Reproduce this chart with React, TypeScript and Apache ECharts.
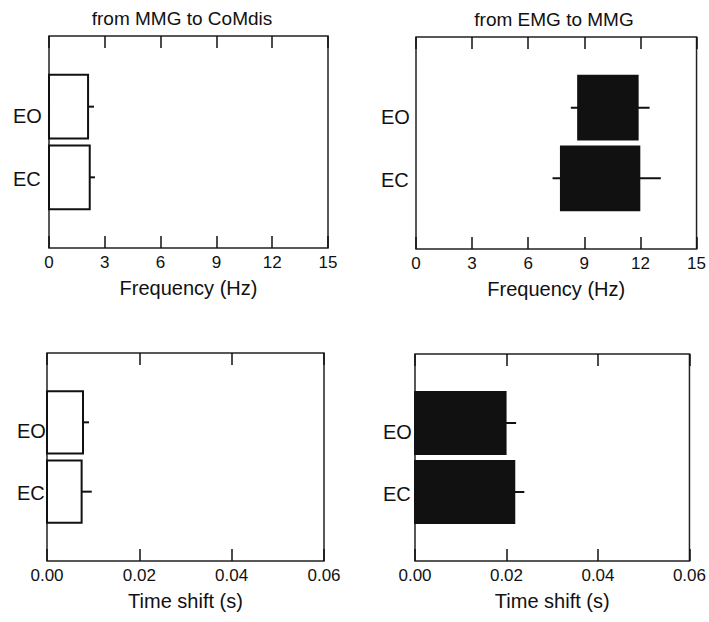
import React, { useEffect, useRef } from "react";
import * as echarts from "echarts";

// Categories (rows of each panel)
const categories = ["EO", "EC"];

// Top-left: from MMG to CoMdis, frequency (Hz)
const freqMmgCoMdis = [2.1, 2.19];
const freqMmgCoMdisErr = [2.42, 2.47];

// Top-right: from EMG to MMG, frequency band (Hz)
const freqEmgMmgLow = [8.67, 7.75];
const freqEmgMmgHigh = [11.85, 11.94];
const freqEmgMmgErrLow = [8.28, 7.3];
const freqEmgMmgErrHigh = [12.49, 13.09];

// Bottom-left: time shift (s), MMG to CoMdis
const shiftMmgCoMdis = [0.0078, 0.0075];
const shiftMmgCoMdisErr = [0.0091, 0.0097];

// Bottom-right: time shift (s), EMG to MMG
const shiftEmgMmg = [0.0198, 0.0217];
const shiftEmgMmgErr = [0.0221, 0.0239];

// Titles and axis names
const panelTitles = ["from MMG to CoMdis", "from EMG to MMG"];
const freqAxisName = "Frequency (Hz)";
const timeAxisName = "Time shift (s)";

const HALF = 0.45;
const FONT = "'Liberation Sans', Arial, Helvetica, sans-serif";
const INK = "#111";

function barRender(fill: string) {
  return (_params: any, api: any) => {
    const lo = api.value(0);
    const hi = api.value(1);
    const y = api.value(2);
    const p1 = api.coord([lo, y - HALF]);
    const p2 = api.coord([hi, y + HALF]);
    return {
      type: "rect",
      shape: {
        x: Math.min(p1[0], p2[0]),
        y: Math.min(p1[1], p2[1]),
        width: Math.abs(p2[0] - p1[0]),
        height: Math.abs(p2[1] - p1[1]),
      },
      style: { fill, stroke: INK, lineWidth: 2 },
    };
  };
}

function errRender(_params: any, api: any) {
  const lo = api.value(0);
  const hi = api.value(1);
  const y = api.value(2);
  const p1 = api.coord([lo, y]);
  const p2 = api.coord([hi, y]);
  return {
    type: "line",
    shape: { x1: p1[0], y1: p1[1], x2: p2[0], y2: p2[1] },
    style: { stroke: INK, lineWidth: 2 },
  };
}

export default function App() {
  const ref = useRef<HTMLDivElement>(null);

  useEffect(() => {
    if (!ref.current) return;
    const chart = echarts.init(ref.current, undefined, { renderer: "svg" });

    const grids = [
      { left: 49, top: 36, width: 279, height: 212 },
      { left: 416, top: 37, width: 283, height: 212 },
      { left: 47, top: 353, width: 277, height: 208 },
      { left: 415, top: 354, width: 280, height: 207 },
    ];
    const labelMargins = [36, 35, 30, 32];

    const xCfg = [
      { min: 0, max: 15, interval: 3, name: freqAxisName, fmt: (v: number) => String(v) },
      { min: 0, max: 15, interval: 3, name: freqAxisName, fmt: (v: number) => String(v) },
      { min: 0, max: 0.06, interval: 0.02, name: timeAxisName, fmt: (v: number) => v.toFixed(2) },
      { min: 0, max: 0.06, interval: 0.02, name: timeAxisName, fmt: (v: number) => v.toFixed(2) },
    ];

    const xAxis: any[] = [];
    const yAxis: any[] = [];
    grids.forEach((_g, i) => {
      const c = xCfg[i];
      // bottom axis with labels
      xAxis.push({
        type: "value",
        gridIndex: i,
        position: "bottom",
        min: c.min,
        max: c.max,
        interval: c.interval,
        name: c.name,
        nameLocation: "middle",
        nameGap: 30,
        nameTextStyle: { fontFamily: FONT, fontSize: 20, color: INK },
        axisLine: { show: false, onZero: false },
        axisTick: { show: true, inside: true, length: 12, lineStyle: { color: INK, width: 1.5 } },
        axisLabel: { show: true, margin: 6, fontFamily: FONT, fontSize: 17, color: INK, formatter: c.fmt },
        splitLine: { show: false },
      });
      // top axis: ticks only
      xAxis.push({
        type: "value",
        gridIndex: i,
        position: "top",
        min: c.min,
        max: c.max,
        interval: c.interval,
        axisLine: { show: false, onZero: false },
        axisTick: { show: true, inside: true, length: 12, lineStyle: { color: INK, width: 1.5 } },
        axisLabel: { show: false },
        splitLine: { show: false },
      });
      yAxis.push({
        type: "value",
        gridIndex: i,
        min: 0,
        max: 3,
        interval: 1,
        inverse: true,
        axisLine: { show: false, onZero: false },
        axisTick: { show: false },
        splitLine: { show: false },
        axisLabel: {
          show: true,
          align: "left",
          margin: labelMargins[i],
          formatter: (v: number) => {
            if (v === 1) return "{a|" + categories[0] + "}";
            if (v === 2) return "{b|" + categories[1] + "}";
            return "";
          },
          rich: {
            a: { fontFamily: FONT, fontSize: 20, color: INK, padding: [18, 0, 0, 0] },
            b: { fontFamily: FONT, fontSize: 20, color: INK, padding: [3, 0, 0, 0] },
          },
        },
      });
    });

    const rows = categories.map((_c, k) => k + 1);

    const panelBars = [
      { fill: "#ffffff", lo: rows.map(() => 0), hi: freqMmgCoMdis, eLo: freqMmgCoMdis, eHi: freqMmgCoMdisErr },
      { fill: INK, lo: freqEmgMmgLow, hi: freqEmgMmgHigh, eLo: freqEmgMmgErrLow, eHi: freqEmgMmgErrHigh },
      { fill: "#ffffff", lo: rows.map(() => 0), hi: shiftMmgCoMdis, eLo: shiftMmgCoMdis, eHi: shiftMmgCoMdisErr },
      { fill: INK, lo: rows.map(() => 0), hi: shiftEmgMmg, eLo: shiftEmgMmg, eHi: shiftEmgMmgErr },
    ];

    const series: any[] = [];
    panelBars.forEach((p, i) => {
      series.push({
        type: "custom",
        xAxisIndex: i * 2,
        yAxisIndex: i,
        renderItem: errRender,
        encode: { x: [0, 1], y: 2 },
        data: rows.map((r, k) => [p.eLo[k], p.eHi[k], r]),
        z: 2,
      });
      series.push({
        type: "custom",
        xAxisIndex: i * 2,
        yAxisIndex: i,
        renderItem: barRender(p.fill),
        encode: { x: [0, 1], y: 2 },
        data: rows.map((r, k) => [p.lo[k], p.hi[k], r]),
        z: 3,
      });
    });

    chart.setOption({
      animation: false,
      backgroundColor: "#ffffff",
      grid: grids.map((g) => ({
        ...g,
        show: true,
        borderColor: "#222",
        borderWidth: 1.5,
        backgroundColor: "transparent",
      })),
      xAxis,
      yAxis,
      series,
      graphic: [
        {
          type: "text",
          x: 182,
          y: 18,
          style: { text: panelTitles[0], align: "center", verticalAlign: "middle", fontFamily: FONT, fontSize: 19, fill: INK },
        },
        {
          type: "text",
          x: 554,
          y: 19,
          style: { text: panelTitles[1], align: "center", verticalAlign: "middle", fontFamily: FONT, fontSize: 19, fill: INK },
        },
      ],
    });

    return () => chart.dispose();
  }, []);

  return (
    <div
      ref={ref}
      style={{ position: "absolute", left: 0, top: 0, width: 709, height: 622, background: "#fff" }}
    />
  );
}
